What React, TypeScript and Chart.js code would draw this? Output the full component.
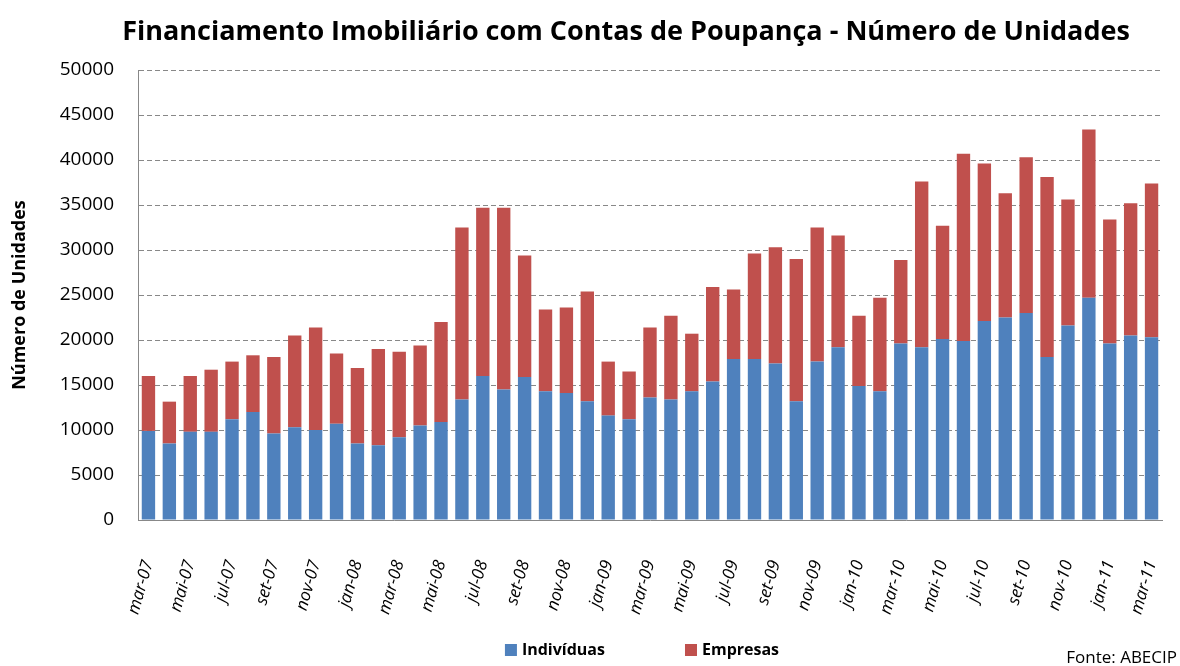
import React, { useEffect, useRef } from "react";
import { Chart, registerables } from "chart.js";

Chart.register(...registerables);

const months: string[] = [
  "mar-07","abr-07","mai-07","jun-07","jul-07","ago-07","set-07","out-07","nov-07","dez-07",
  "jan-08","fev-08","mar-08","abr-08","mai-08","jun-08","jul-08","ago-08","set-08","out-08","nov-08","dez-08",
  "jan-09","fev-09","mar-09","abr-09","mai-09","jun-09","jul-09","ago-09","set-09","out-09","nov-09","dez-09",
  "jan-10","fev-10","mar-10","abr-10","mai-10","jun-10","jul-10","ago-10","set-10","out-10","nov-10","dez-10",
  "jan-11","fev-11","mar-11",
];

const individuas: number[] = [
  9900, 8500, 9800, 9800, 11200, 12000, 9600, 10300, 10000, 10700,
  8500, 8300, 9200, 10500, 10900, 13400, 16000, 14500, 15900, 14300, 14100, 13200,
  11600, 11200, 13600, 13400, 14300, 15400, 17900, 17900, 17400, 13200, 17600, 19200,
  14900, 14300, 19600, 19200, 20100, 19900, 22100, 22500, 23000, 18100, 21600, 24700,
  19600, 20500, 20300,
];

const totais: number[] = [
  16000, 13150, 16000, 16700, 17600, 18300, 18100, 20500, 21400, 18500,
  16900, 19000, 18700, 19400, 22000, 32500, 34700, 34700, 29400, 23400, 23600, 25400,
  17600, 16500, 21400, 22700, 20700, 25900, 25600, 29600, 30300, 29000, 32500, 31600,
  22700, 24700, 28900, 37600, 32700, 40700, 39600, 36300, 40300, 38100, 35600, 43400,
  33400, 35200, 37400,
];

const empresas: number[] = totais.map((t, i) => t - individuas[i]);

const titleText = "Financiamento Imobiliário com Contas de Poupança - Número de Unidades";
const yTitle = "Número de Unidades";
const sourceText = "Fonte: ABECIP";

const FONT = "'Open Sans', 'Noto Sans', sans-serif";

export default function App() {
  const ref = useRef<HTMLCanvasElement | null>(null);

  useEffect(() => {
    document.body.style.margin = "0";
    const decorPlugin = {
      id: "decor",
      afterDraw(chart: any) {
        const ctx = chart.ctx;
        ctx.save();
        ctx.font = `bold 27px ${FONT}`;
        ctx.fillStyle = "#000";
        ctx.textAlign = "center";
        ctx.textBaseline = "alphabetic";
        ctx.fillText(titleText, 626, 40);
        ctx.font = `17px ${FONT}`;
        ctx.textAlign = "right";
        ctx.fillText(sourceText, 1177, 663);
        const items = chart.data.datasets.map((d: any) => ({ label: d.label, color: d.backgroundColor }));
        ctx.font = `bold 16px ${FONT}`;
        const box = 12;
        const gapBoxText = 5;
        const gapItems = 80;
        const widths = items.map((it: any) => box + gapBoxText + ctx.measureText(it.label).width);
        const total = widths.reduce((a: number, b: number) => a + b, 0) + gapItems * (items.length - 1);
        const ca = chart.chartArea;
        let x = (ca.left + ca.right) / 2 - total / 2 - 8;
        const cy = 650;
        ctx.textAlign = "left";
        ctx.textBaseline = "middle";
        items.forEach((it: any, i: number) => {
          ctx.fillStyle = it.color;
          ctx.fillRect(x, cy - box / 2, box, box);
          ctx.fillStyle = "#000";
          ctx.fillText(it.label, x + box + gapBoxText, cy);
          x += widths[i] + gapItems;
        });
        ctx.restore();
      },
    };
    const chart = new Chart(ref.current as HTMLCanvasElement, {
      type: "bar",
      data: {
        labels: months,
        datasets: [
          { label: "Indivíduas", data: individuas, backgroundColor: "#4F81BD", barPercentage: 0.64, categoryPercentage: 1 },
          { label: "Empresas", data: empresas, backgroundColor: "#C0504D", barPercentage: 0.64, categoryPercentage: 1 },
        ],
      },
      plugins: [decorPlugin],
      options: {
        animation: false,
        responsive: false,
        maintainAspectRatio: false,
        layout: { padding: { left: 0, right: 18, top: 70, bottom: 0 } },
        plugins: {
          title: { display: false },
          legend: { display: false },
          tooltip: { enabled: false },
        },
        scales: {
          x: {
            stacked: true,
            grid: { display: false },
            border: { display: true, color: "#888", dash: [5, 3] },
            ticks: {
              autoSkip: false,
              maxRotation: 74,
              minRotation: 74,
              color: "#000",
              padding: 30,
              font: { family: FONT, size: 17, style: "italic" },
              callback: (_v: any, i: number) => (i % 2 === 0 ? months[i] : ""),
            },
            afterFit: (s: any) => {
              s.height = 146;
              s.paddingLeft = 0;
              s.paddingRight = 0;
            },
          },
          y: {
            stacked: true,
            min: 0,
            max: 50000,
            ticks: {
              stepSize: 5000,
              color: "#000",
              padding: 24,
              font: { family: FONT, size: 19 },
              callback: (v: any) => String(v),
            },
            grid: { color: "#888", lineWidth: 1, drawTicks: false },
            border: { display: true, color: "#888", dash: [5, 3] },
            title: {
              display: true,
              text: yTitle,
              color: "#000",
              font: { family: FONT, size: 18, weight: "bold" },
              padding: { top: 9, bottom: 0 },
            },
            afterFit: (s: any) => {
              s.width = 138;
            },
          },
        },
      },
    } as any);
    return () => chart.destroy();
  }, []);

  return (
    <div style={{ position: "relative", width: 1180, height: 666 }}>
      <canvas ref={ref} width={1180} height={666} style={{ width: 1180, height: 666 }} />
    </div>
  );
}
